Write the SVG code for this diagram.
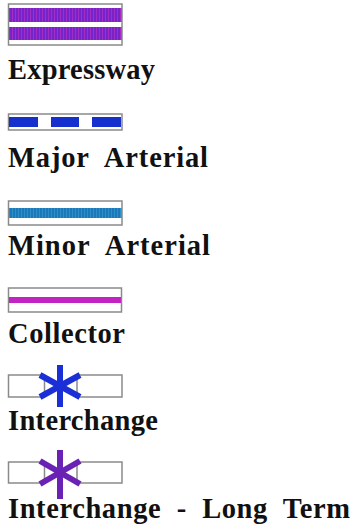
<svg xmlns="http://www.w3.org/2000/svg" width="359" height="529" viewBox="0 0 359 529">
  <style>
    .frame { fill: #ffffff; stroke: #8a8a8a; stroke-width: 1.5; }
    .label { font-family: "Liberation Serif", "Times New Roman", serif; font-weight: bold; font-size: 28.5px; fill: #111111; }
    .star-blue line { stroke: #1a2fd6; stroke-width: 6; stroke-linecap: butt; }
    .star-purple line { stroke: #6a22b4; stroke-width: 6; stroke-linecap: butt; }
  </style>
  <defs>
    <pattern id="texPurple" width="3" height="3" patternUnits="userSpaceOnUse">
      <rect width="3" height="3" fill="#7424c8"/>
      <rect width="1" height="3" fill="#a52cc4"/>
    </pattern>
    <pattern id="texTeal" width="3" height="3" patternUnits="userSpaceOnUse">
      <rect width="3" height="3" fill="#1c78b8"/>
      <rect width="1" height="3" fill="#2a90c8"/>
    </pattern>
  </defs>
  <rect width="359" height="529" fill="#ffffff"/>

  <!-- Expressway -->
  <g id="expressway">
    <rect class="frame" x="8.5" y="4" width="113.5" height="41"/>
    <rect x="9" y="8" width="112.5" height="14" fill="url(#texPurple)"/>
    <rect x="9" y="27" width="112.5" height="13" fill="url(#texPurple)"/>
    <text class="label" x="8" y="79" textLength="147" lengthAdjust="spacing">Expressway</text>
  </g>

  <!-- Major Arterial -->
  <g id="major-arterial">
    <rect class="frame" x="8.5" y="114" width="113.5" height="16"/>
    <rect x="9" y="117" width="29" height="10" fill="#1530cc"/>
    <rect x="51" y="117" width="28" height="10" fill="#1530cc"/>
    <rect x="92" y="117" width="29" height="10" fill="#1530cc"/>
    <text class="label" x="8" y="167" textLength="200" lengthAdjust="spacing" xml:space="preserve">Major  Arterial</text>
  </g>

  <!-- Minor Arterial -->
  <g id="minor-arterial">
    <rect class="frame" x="8.5" y="201" width="113.5" height="24"/>
    <rect x="9" y="208" width="112.5" height="10" fill="url(#texTeal)"/>
    <text class="label" x="8" y="255" textLength="202" lengthAdjust="spacing" xml:space="preserve">Minor  Arterial</text>
  </g>

  <!-- Collector -->
  <g id="collector">
    <rect class="frame" x="8.5" y="288" width="113" height="24"/>
    <rect x="9" y="297" width="112" height="6" fill="#c224c4"/>
    <text class="label" x="8" y="343" textLength="117" lengthAdjust="spacing">Collector</text>
  </g>

  <!-- Interchange -->
  <g id="interchange">
    <rect class="frame" x="8.5" y="375" width="36" height="22"/>
    <rect class="frame" x="77" y="375" width="45" height="22"/>
    <g class="star-blue">
      <line x1="60" y1="365" x2="60" y2="407"/>
      <line x1="40" y1="375" x2="80" y2="397"/>
      <line x1="40" y1="397" x2="80" y2="375"/>
    </g>
    <text class="label" x="8" y="430" textLength="150" lengthAdjust="spacing">Interchange</text>
  </g>

  <!-- Interchange - Long Term -->
  <g id="interchange-long-term">
    <rect class="frame" x="8.5" y="462" width="36" height="21"/>
    <rect class="frame" x="77" y="462" width="45" height="21"/>
    <g class="star-purple">
      <line x1="60" y1="450" x2="60" y2="499"/>
      <line x1="40" y1="461" x2="80" y2="484"/>
      <line x1="40" y1="484" x2="80" y2="461"/>
    </g>
    <text class="label" x="8" y="518" textLength="342" lengthAdjust="spacing" xml:space="preserve">Interchange  -  Long  Term</text>
  </g>
</svg>
